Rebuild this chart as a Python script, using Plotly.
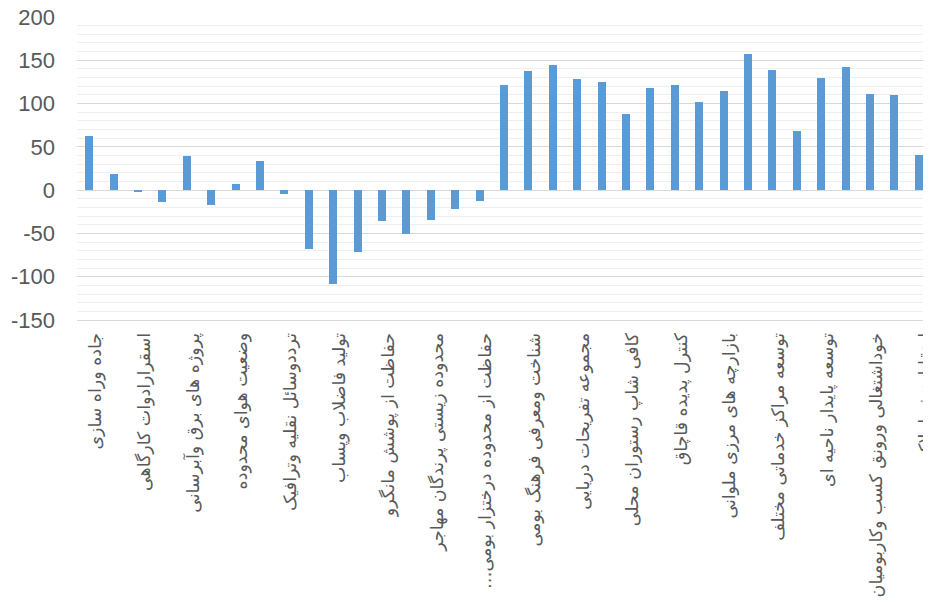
import plotly.graph_objects as go

values = [63, 19, -2, -14, 40, -17, 7, 34, -5, -68,
          -108, -71, -36, -51, -35, -22, -12, 122, 138, 145,
          128, 125, 88, 118, 122, 102, 115, 157, 139, 68,
          129, 142, 111, 110, 41]

tick_labels = [
    "جاده وراه سازی",
    "اسقرارادوات کارگاهی",
    "پروژه های برق وآبرسانی",
    "وضعیت هوای محدوده",
    "ترددوسائل نقلیه وترافیک",
    "تولید فاضلاب وپساب",
    "حفاظت از پوشش مانگرو",
    "محدوده زیستی پرندگان مهاجر",
    "حفاظت از محدوده درختزار بومی\u2026\u200f",
    "شناخت ومعرفی فرهنگ بومی",
    "مجموعه تفریحات دریایی",
    "کافی شاپ رستوران محلی",
    "کنترل پدیده قاچاق",
    "بازارچه های مرزی ملوانی",
    "توسعه مراکز خدماتی مختلف",
    "توسعه پایدار ناحیه ای",
    "خوداشتغالی ورونق کسب وکاربومیان",
    "ارتقا ارزش املاک محدوده",
]

y_ticks = [-150, -100, -50, 0, 50, 100, 150, 200]

x_idx = list(range(len(values)))
tick_pos = [i + 0.25 for i in range(0, len(values), 2)]

fig = go.Figure()
fig.add_trace(go.Bar(
    x=x_idx, y=values, width=0.33,
    marker=dict(color="#5b9bd5", line=dict(width=0)),
))

# page body adds an 8px offset, so margins are compensated
fig.update_layout(
    width=931, height=605,
    margin=dict(l=69, r=8, t=9, b=293),
    paper_bgcolor="white", plot_bgcolor="white",
    showlegend=False,
    bargap=0,
)
fig.update_xaxes(
    range=[-0.5, len(values) - 0.5],
    tickmode="array", tickvals=tick_pos, ticktext=tick_labels,
    tickangle=-90,
    tickfont=dict(family="DejaVu Sans", size=17.4, color="#595959"),
    showgrid=False, zeroline=False,
    showline=True, linecolor="#d9d9d9", linewidth=1,
    ticks="", ticklabelstandoff=5,
    automargin=False, ticklabeloverflow="allow",
)
fig.update_yaxes(
    range=[-150, 200],
    tickmode="array", tickvals=y_ticks, ticktext=[str(v) for v in y_ticks],
    tickfont=dict(family="Liberation Sans", size=22, color="#595959"),
    showgrid=True, gridcolor="#d9d9d9", gridwidth=1.3,
    minor=dict(dtick=10, tick0=0, showgrid=True, gridcolor="#efefef", gridwidth=1.3),
    zeroline=True, zerolinecolor="#d9d9d9", zerolinewidth=1.3,
    ticks="", ticklabelstandoff=21,
    automargin=False, ticklabeloverflow="allow",
)

fig.write_html("out.html")
